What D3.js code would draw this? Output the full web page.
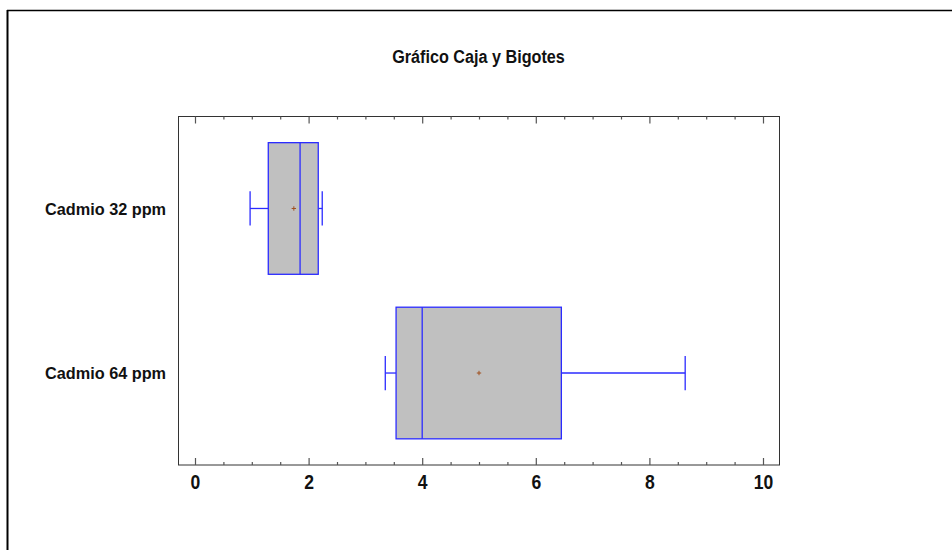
<!DOCTYPE html>
<html>
<head>
<meta charset="utf-8">
<script src="https://cdn.jsdelivr.net/npm/d3@7"></script>
<style>
  html, body { margin: 0; padding: 0; background: #fff; }
  svg { display: block; font-family: "Liberation Sans", Arial, sans-serif; }
</style>
</head>
<body>
<svg id="chart" width="952" height="550"></svg>
<script>
// Box-and-whisker summaries per group
const categories = ["Cadmio 32 ppm", "Cadmio 64 ppm"];
const minValues    = [0.97, 3.35];
const q1Values     = [1.29, 3.54];
const medianValues = [1.85, 4.00];
const q3Values     = [2.17, 6.45];
const maxValues    = [2.24, 8.63];
const meanValues   = [1.74, 5.00];
const majorTicks = [0, 2, 4, 6, 8, 10];
const minorTicks = [0.5, 1, 1.5, 2.5, 3, 3.5, 4.5, 5, 5.5, 6.5, 7, 7.5, 8.5, 9, 9.5];
const titleText = "Gráfico Caja y Bigotes";

const rows = categories.map((c, i) => ({
  name: c, min: minValues[i], q1: q1Values[i], median: medianValues[i],
  q3: q3Values[i], max: maxValues[i], mean: meanValues[i]
}));

const svg = d3.select("#chart");
const plot = { left: 178.5, right: 779.5, top: 116.5, bottom: 465 };

// value axis: 0 sits at x=195, 10 at x=763
const pxPerUnit = 56.8;
const x = d3.scaleLinear()
  .domain([(plot.left - 195) / pxPerUnit, (plot.right - 195) / pxPerUnit])
  .range([plot.left, plot.right]);

const y = d3.scaleBand().domain(categories)
  .range([plot.top, plot.bottom])
  .paddingInner(0.2).paddingOuter(0.159);

const boxStroke = "#2b2bff";

// outer page border (left and top)
svg.append("line").attr("x1", 7.5).attr("x2", 7.5).attr("y1", 10).attr("y2", 550)
  .attr("stroke", "#000").attr("stroke-width", 2);
svg.append("line").attr("x1", 7).attr("x2", 952).attr("y1", 10.5).attr("y2", 10.5)
  .attr("stroke", "#000").attr("stroke-width", 1.5);

// title (slightly condensed bold face)
svg.append("text").attr("transform", "translate(478.5,62.5) scale(0.92,1)")
  .attr("text-anchor", "middle").attr("font-weight", "bold").attr("font-size", 17.6)
  .attr("fill", "#111").text(titleText);

// plot frame
svg.append("rect")
  .attr("x", plot.left).attr("y", plot.top)
  .attr("width", plot.right - plot.left).attr("height", plot.bottom - plot.top)
  .attr("fill", "none").attr("stroke", "#333").attr("stroke-width", 1);

// bottom axis: major ticks with labels, pointing inward
const bottomMajor = svg.append("g").attr("transform", `translate(0,${plot.bottom})`)
  .call(d3.axisBottom(x).tickValues(majorTicks).tickSize(-7).tickPadding(10).tickFormat(d3.format("d")));
const bottomMinor = svg.append("g").attr("transform", `translate(0,${plot.bottom})`)
  .call(d3.axisBottom(x).tickValues(minorTicks).tickSize(-3).tickFormat(""));
// top axis: ticks only, pointing inward
const topMajor = svg.append("g").attr("transform", `translate(0,${plot.top})`)
  .call(d3.axisTop(x).tickValues(majorTicks).tickSize(-7).tickFormat(""));
const topMinor = svg.append("g").attr("transform", `translate(0,${plot.top})`)
  .call(d3.axisTop(x).tickValues(minorTicks).tickSize(-3).tickFormat(""));

[bottomMajor, bottomMinor, topMajor, topMinor].forEach(g => {
  g.select(".domain").remove();
  g.selectAll(".tick line").attr("stroke", "#555").attr("stroke-width", 1.2);
});
bottomMajor.selectAll(".tick text")
  .attr("font-family", "Liberation Sans, Arial, sans-serif")
  .attr("font-size", 19.5).attr("font-weight", "bold").attr("fill", "#111")
  .attr("transform", "scale(0.9,1)");

// category labels (slightly condensed)
svg.append("g").selectAll("text").data(rows).join("text")
  .attr("transform", d => `translate(166,${y(d.name) + y.bandwidth() / 2 + 6.3}) scale(0.945,1)`)
  .attr("text-anchor", "end").attr("font-weight", "bold").attr("font-size", 17.2)
  .attr("fill", "#111").text(d => d.name);

// boxes
const g = svg.append("g").selectAll("g").data(rows).join("g");
const cy = d => y(d.name) + y.bandwidth() / 2;
const capH = y.bandwidth() * 0.13;

// whiskers
g.append("line").attr("x1", d => x(d.min)).attr("x2", d => x(d.q1))
  .attr("y1", cy).attr("y2", cy).attr("stroke", boxStroke).attr("stroke-width", 1.3);
g.append("line").attr("x1", d => x(d.q3)).attr("x2", d => x(d.max))
  .attr("y1", cy).attr("y2", cy).attr("stroke", boxStroke).attr("stroke-width", 1.3);
g.append("line").attr("x1", d => x(d.min)).attr("x2", d => x(d.min))
  .attr("y1", d => cy(d) - capH).attr("y2", d => cy(d) + capH)
  .attr("stroke", boxStroke).attr("stroke-width", 1.3);
g.append("line").attr("x1", d => x(d.max)).attr("x2", d => x(d.max))
  .attr("y1", d => cy(d) - capH).attr("y2", d => cy(d) + capH)
  .attr("stroke", boxStroke).attr("stroke-width", 1.3);

// box body
g.append("rect")
  .attr("x", d => x(d.q1)).attr("y", d => y(d.name))
  .attr("width", d => x(d.q3) - x(d.q1)).attr("height", y.bandwidth())
  .attr("fill", "#c0c0c0").attr("stroke", boxStroke).attr("stroke-width", 1.3);

// median
g.append("line").attr("x1", d => x(d.median)).attr("x2", d => x(d.median))
  .attr("y1", d => y(d.name)).attr("y2", d => y(d.name) + y.bandwidth())
  .attr("stroke", boxStroke).attr("stroke-width", 1.3);

// mean marker
const plusArm = 2.2;
g.append("path")
  .attr("d", d => `M${x(d.mean) - plusArm},${cy(d)}H${x(d.mean) + plusArm}M${x(d.mean)},${cy(d) - plusArm}V${cy(d) + plusArm}`)
  .attr("stroke", "#a0501e").attr("stroke-width", 1).attr("fill", "none");
</script>
</body>
</html>
